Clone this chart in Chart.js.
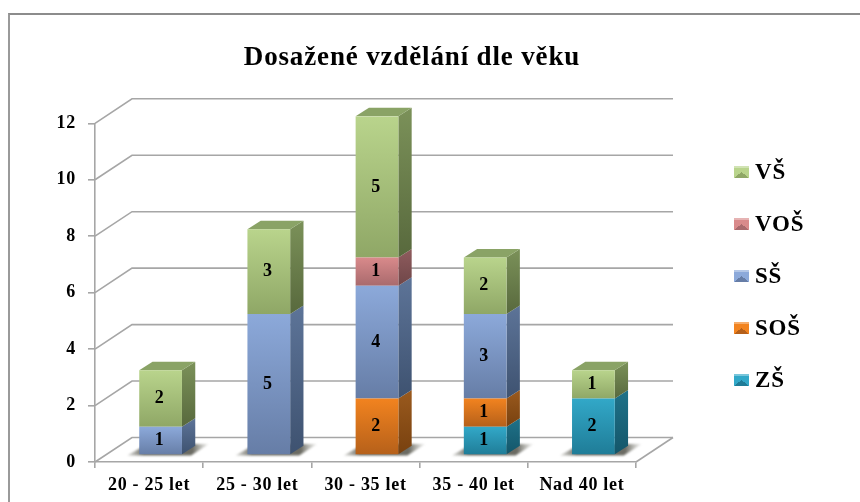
<!DOCTYPE html>
<html lang="cs">
<head>
<meta charset="utf-8">
<title>Dosažené vzdělání dle věku</title>
<script src="https://cdn.jsdelivr.net/npm/chart.js@4/dist/chart.umd.min.js"></script>
<style>
  html, body { margin: 0; padding: 0; background: #fff; }
  body { position: relative; width: 860px; height: 502px; overflow: hidden; font-family: "Liberation Serif", serif; color: #000; }
  canvas { position: absolute; left: 0; top: 0; filter: blur(0.35px); }
  .frame { position: absolute; left: 8px; top: 13px; width: 860px; height: 500px; border-left: 2px solid #9a9a9a; border-top: 2px solid #8c8c8c; }
  .chart-title { position: absolute; left: 212px; width: 400px; top: 41px; text-align: center; font-weight: bold; font-size: 27px; letter-spacing: 0.85px; line-height: 30px; white-space: nowrap; filter: blur(0.35px); }
  .legend-row { position: absolute; left: 734px; height: 30px; line-height: 30px; font-weight: bold; font-size: 23px; letter-spacing: 0.8px; white-space: nowrap; filter: blur(0.35px); }
  .legend-row i { position: absolute; left: 0; top: 9px; width: 15px; height: 12px; }
  .legend-row span { position: absolute; left: 21px; top: 0; }
</style>
</head>
<body>
<div class="frame"></div>
<div class="chart-title">Dosažené vzdělání dle věku</div>
<div id="legend"></div>
<canvas id="chart" width="860" height="502"></canvas>
<script>
const categories = ['20 - 25 let', '25 - 30 let', '30 - 35 let', '35 - 40 let', 'Nad 40 let'];
const yTicks = [0, 2, 4, 6, 8, 10, 12];

// stacked bottom to top
const seriesNames = ['ZŠ', 'SOŠ', 'SŠ', 'VOŠ', 'VŠ'];
const zs  = [0, 0, 0, 1, 2];
const sos = [0, 0, 2, 1, 0];
const ss  = [1, 5, 4, 3, 0];
const vos = [0, 0, 1, 0, 0];
const vs  = [2, 3, 5, 2, 1];
const seriesValues = [zs, sos, ss, vos, vs];

// front top, front bottom, side top, side bottom, roof
const palette = [
  ['#32a8c8', '#1f7c97', '#1f7289', '#14566a', '#1f7c97'],
  ['#f2831f', '#b5601a', '#9a5a1e', '#78410f', '#b5601a'],
  ['#8ca9da', '#667da6', '#5d7498', '#3e5270', '#667da6'],
  ['#d98a8b', '#a96a6d', '#8f5c5e', '#6f4648', '#a96a6d'],
  ['#b9d48c', '#8fa766', '#7b9159', '#58693d', '#8aa366']
];

// 3D look of the old office chart
const WALL_DX = 37, WALL_DY = 24.5;
const BAR_DX = 11.5, BAR_DY = 7;
const DEPTH_X = 13.3, DEPTH_Y = 8.5;
const LINE = '#a6a6a6';

function stackStart(ds, i) {
  let sum = 0;
  for (let k = 0; k < ds; k++) sum += seriesValues[k][i];
  return sum;
}

function frontGradient(c) {
  if (c.type !== 'data') return 'transparent';
  const chart = c.chart, y = chart.scales.y;
  const start = stackStart(c.datasetIndex, c.dataIndex);
  const y0 = y.getPixelForValue(start + seriesValues[c.datasetIndex][c.dataIndex]);
  const y1 = y.getPixelForValue(start);
  // scale has no size yet on the first pass
  if (!isFinite(y0) || !isFinite(y1)) return palette[c.datasetIndex][0];
  const g = chart.ctx.createLinearGradient(0, y0, 0, y1);
  g.addColorStop(0, palette[c.datasetIndex][0]);
  g.addColorStop(1, palette[c.datasetIndex][1]);
  return g;
}

const walls3d = {
  id: 'walls3d',
  beforeDraw(chart) {
    chart.ctx.letterSpacing = '0.7px';
  },
  beforeDatasetsDraw(chart) {
    const { ctx, scales: { x, y } } = chart;
    ctx.save();
    ctx.strokeStyle = LINE;
    ctx.lineWidth = 1.6;
    const backRight = x.right + WALL_DX;
    yTicks.forEach(v => {
      const py = y.getPixelForValue(v);
      ctx.beginPath();
      ctx.moveTo(x.left, py);
      ctx.lineTo(x.left + WALL_DX, py - WALL_DY);
      ctx.lineTo(backRight, py - WALL_DY);
      ctx.stroke();
    });
    const py0 = y.getPixelForValue(0);
    ctx.beginPath();
    ctx.moveTo(x.right, py0);
    ctx.lineTo(backRight, py0 - WALL_DY);
    ctx.stroke();

    // floor shadows
    const meta0 = chart.getDatasetMeta(0);
    meta0.data.forEach((bar, i) => {
      const half = bar.width / 2;
      const fx = bar.x + BAR_DX, by = py0 - BAR_DY;
      ctx.save();
      ctx.filter = 'blur(1px)';
      const g = ctx.createLinearGradient(fx - half - 12, 0, fx + half + 27, 0);
      g.addColorStop(0, 'rgba(110,110,100,0.25)');
      g.addColorStop(0.2, 'rgba(70,70,60,0.8)');
      g.addColorStop(0.8, 'rgba(70,70,60,0.8)');
      g.addColorStop(1, 'rgba(140,140,130,0.1)');
      ctx.fillStyle = g;
      ctx.beginPath();
      ctx.moveTo(fx - half - 12, by + 0.5);
      ctx.lineTo(fx - half + 8, by - 11);
      ctx.lineTo(fx + half + 27, by - 11);
      ctx.lineTo(fx + half + 9, by + 0.5);
      ctx.closePath();
      ctx.fill();
      ctx.restore();
    });

    // side and roof faces
    seriesValues.forEach((vals, ds) => {
      chart.getDatasetMeta(ds).data.forEach((bar, i) => {
        if (!vals[i]) return;
        const x1 = bar.x + BAR_DX + bar.width / 2, x0 = x1 - bar.width;
        const top = bar.y - BAR_DY, bot = bar.base - BAR_DY;
        const g = ctx.createLinearGradient(0, top - DEPTH_Y, 0, bot);
        g.addColorStop(0, palette[ds][2]);
        g.addColorStop(1, palette[ds][3]);
        ctx.fillStyle = g;
        ctx.beginPath();
        ctx.moveTo(x1, top);
        ctx.lineTo(x1 + DEPTH_X, top - DEPTH_Y);
        ctx.lineTo(x1 + DEPTH_X, bot - DEPTH_Y);
        ctx.lineTo(x1, bot);
        ctx.closePath();
        ctx.fill();
        const isTop = seriesValues.slice(ds + 1).every(s => !s[i]);
        if (isTop) {
          ctx.fillStyle = palette[ds][4];
          ctx.beginPath();
          ctx.moveTo(x0, top);
          ctx.lineTo(x0 + DEPTH_X, top - DEPTH_Y);
          ctx.lineTo(x1 + DEPTH_X, top - DEPTH_Y);
          ctx.lineTo(x1, top);
          ctx.closePath();
          ctx.fill();
        }
      });
    });
    ctx.restore();
  },
  // front faces are the normal bars, just pushed forward onto the floor
  beforeDatasetDraw(chart) {
    chart.ctx.save();
    chart.ctx.translate(BAR_DX, -BAR_DY);
  },
  afterDatasetDraw(chart) {
    chart.ctx.restore();
  },
  afterDatasetsDraw(chart) {
    const ctx = chart.ctx;
    ctx.save();
    ctx.fillStyle = '#000';
    ctx.font = 'bold 18px "Liberation Serif", serif';
    ctx.textAlign = 'center';
    ctx.textBaseline = 'middle';
    seriesValues.forEach((vals, ds) => {
      chart.getDatasetMeta(ds).data.forEach((bar, i) => {
        if (!vals[i]) return;
        ctx.fillText(String(vals[i]), bar.x + BAR_DX - 1, (bar.y + bar.base) / 2 - BAR_DY);
      });
    });
    ctx.restore();
  }
};

new Chart(document.getElementById('chart'), {
  type: 'bar',
  plugins: [walls3d],
  data: {
    labels: categories,
    datasets: seriesNames.map((name, k) => ({
      label: name,
      data: seriesValues[k],
      backgroundColor: frontGradient,
      borderWidth: 0,
      barPercentage: 0.395,
      categoryPercentage: 1
    }))
  },
  options: {
    responsive: false,
    animation: false,
    layout: { padding: { left: 0, right: 224, top: 123.3, bottom: 0 } },
    plugins: { legend: { display: false }, title: { display: false }, tooltip: { enabled: false } },
    scales: {
      x: {
        stacked: true,
        afterFit: s => { s.height = 40; },
        grid: { drawOnChartArea: false, color: LINE, lineWidth: 1.6, tickLength: 6 },
        border: { color: LINE, width: 1.6 },
        ticks: { color: '#000', padding: 7, maxRotation: 0, font: { family: '"Liberation Serif", serif', weight: 'bold', size: 18 } }
      },
      y: {
        stacked: true,
        min: 0,
        max: 12,
        afterFit: s => { s.width = 95; },
        afterBuildTicks: s => { s.ticks = yTicks.map(value => ({ value })); },
        grid: { drawOnChartArea: false, color: LINE, lineWidth: 1.6, tickLength: 7 },
        border: { color: LINE, width: 1.6 },
        ticks: { color: '#000', padding: 12, font: { family: '"Liberation Serif", serif', weight: 'bold', size: 18 } }
      }
    }
  }
});

// legend in the side column, top entry is the last series
const legendRowsY = [157, 209, 261, 313, 365];
const legendBox = document.getElementById('legend');
[...seriesNames].reverse().forEach((name, r) => {
  const p = palette[seriesNames.length - 1 - r];
  const row = document.createElement('div');
  row.className = 'legend-row';
  row.style.top = legendRowsY[r] + 'px';
  const sw = document.createElement('i');
  sw.style.background = `conic-gradient(from -51deg, ${p[0]} 0 102deg, ${p[0]} 102deg 180deg, ${p[1]} 180deg 282deg, ${p[0]} 282deg 360deg)`;
  sw.style.boxShadow = 'inset 0 2px 0 rgba(255,255,255,.35)';
  const txt = document.createElement('span');
  txt.textContent = name;
  row.append(sw, txt);
  legendBox.append(row);
});
</script>
</body>
</html>
